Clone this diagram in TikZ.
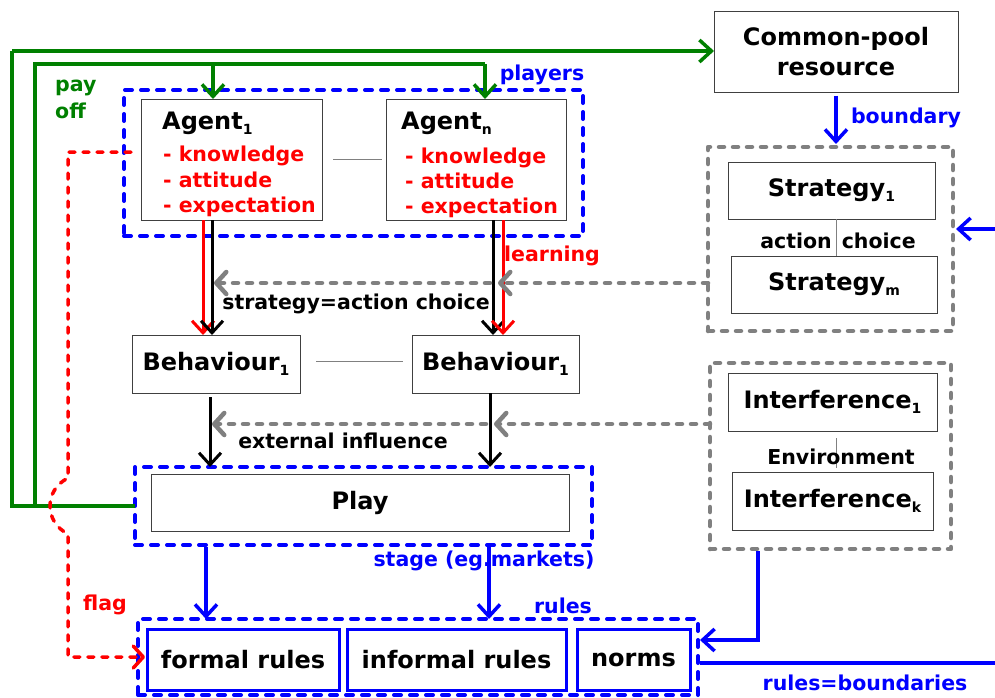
\documentclass[tikz,border=0pt]{standalone}
\usepackage{fontspec}
\setmainfont{DejaVu Sans}
\usetikzlibrary{arrows.meta,calc}
\definecolor{gr}{RGB}{0,128,0}
\definecolor{dg}{RGB}{128,128,128}
\definecolor{bl}{RGB}{0,0,255}
\definecolor{rd}{RGB}{255,0,0}
\newcommand{\sbs}[1]{\raisebox{-5pt}{\fontsize{14}{14}\selectfont #1}}
\begin{document}
\begin{tikzpicture}[x=1pt,y=-1pt,
  box/.style={draw=black!75,line width=1pt,inner sep=0pt,outer sep=0pt,font=\bfseries\fontsize{24}{30}\selectfont,align=center},
  rbox/.style={draw=bl,line width=3pt,inner sep=0pt,outer sep=0pt,font=\bfseries\fontsize{24}{30}\selectfont},
  bgrp/.style={draw=bl,line width=4pt,dash pattern=on 7pt off 9pt,line cap=round,line join=round,inner sep=0pt,outer sep=0pt},
  ggrp/.style={draw=dg,line width=4.5pt,dash pattern=on 5pt off 9pt,line cap=round,line join=round,inner sep=0pt,outer sep=0pt},
  lbl/.style={font=\bfseries\fontsize{20.5}{27}\selectfont,inner sep=0pt},
  big/.style={font=\bfseries\fontsize{24}{30}\selectfont,inner sep=0pt},
  barbtip/.style={-{Straight Barb[length=12pt,width=22pt]}},
  garr/.style={draw=gr,line width=3.5pt,barbtip},
  gline/.style={draw=gr,line width=3.5pt},
  karr/.style={draw=black,line width=3pt,barbtip},
  rarr/.style={draw=rd,line width=3pt,barbtip},
  barr/.style={draw=bl,line width=3.5pt,barbtip},
  bline/.style={draw=bl,line width=3.5pt},
  gdash/.style={draw=dg,line width=4.5pt,dash pattern=on 5pt off 9pt,line cap=round,-{Straight Barb[length=10pt,width=22pt,round]}},
  rdash/.style={draw=rd,line width=3.5pt,dash pattern=on 6pt off 8pt,line cap=round,-{Straight Barb[length=10pt,width=22pt,round]}},
  thinl/.style={draw=gray,line width=0.8pt}
]
\useasboundingbox (0,0) rectangle (995,697);

% group boxes
\node[bgrp,minimum width=459pt,minimum height=146pt] (players) at (353.5,163) {};
\node[bgrp,minimum width=457pt,minimum height=78pt] (playg) at (363.5,506) {};
\node[bgrp,minimum width=560pt,minimum height=76pt] (rulesg) at (418,657) {};
\node[ggrp,minimum width=245pt,minimum height=184pt] (stratg) at (830.5,239) {};
\node[ggrp,minimum width=241pt,minimum height=186pt] (envg) at (830.5,456) {};

% boxes
\node[box,fill=white,minimum width=181pt,minimum height=121pt] (a1) at (231.5,159.5) {};
\node[box,fill=white,minimum width=180pt,minimum height=121pt] (an) at (476,159.5) {};
\node[big,anchor=base west] (a1t) at (162,129) {Agent\sbs{1}};
\node[lbl,rd,anchor=base west] (a1k) at (163,161) {- knowledge};
\node[lbl,rd,anchor=base west] (a1a) at (163,187) {- attitude};
\node[lbl,rd,anchor=base west] (a1e) at (163,212) {- expectation};
\node[big,anchor=base west] (ant) at (401,129) {Agent\sbs{n}};
\node[lbl,rd,anchor=base west] (ank) at (405,163) {- knowledge};
\node[lbl,rd,anchor=base west] (ana) at (405,188) {- attitude};
\node[lbl,rd,anchor=base west] (ane) at (405,213) {- expectation};

\node[box,minimum width=168pt,minimum height=58pt] (b1) at (216,364) {Behaviour\sbs{1}};
\node[box,minimum width=167pt,minimum height=58pt] (b2) at (495.5,364) {Behaviour\sbs{1}};
\node[box,minimum width=418pt,minimum height=57pt] (play) at (360,502.5) {Play};
\node[rbox,minimum width=192pt,minimum height=61pt] (formal) at (243,659.5) {formal rules};
\node[rbox,minimum width=219pt,minimum height=61pt] (informal) at (456.5,659.5) {informal rules};
\node[rbox,minimum width=113pt,minimum height=61pt] (norms) at (633.5,659.5) {norms};
\node[box,minimum width=244pt,minimum height=81pt] (cpr) at (836,52) {Common-pool\\resource};
\node[box,minimum width=207pt,minimum height=57pt] (s1) at (831.5,190.5) {Strategy\sbs{1}};
\node[box,minimum width=206pt,minimum height=57pt] (sm) at (834,284.5) {Strategy\sbs{m}};
\node[box,minimum width=209pt,minimum height=58pt] (i1) at (832.5,402) {Interference\sbs{1}};
\node[box,minimum width=201pt,minimum height=58pt] (ik) at (832.5,501) {Interference\sbs{k}};

% thin links
\draw[thinl,shorten <=11pt,shorten >=4pt] (a1.east) -- (an.west);
\draw[thinl,shorten <=16pt,shorten >=9pt] ($(b1.east)+(0,-3)$) -- ($(b2.west)+(0,-3)$);
\draw[thinl] ($(s1.south)+(4.5,0)$) -- ($(sm.north)+(2,0)$);
\draw[thinl] ($(i1.south)+(3.5,7)$) -- ($(ik.north)+(3.5,-4)$);
\node[lbl,fill=none] (actc) at (838,241) {action\hspace{10pt}choice};
\node[lbl] (envt) at (841,457) {Environment};

% green payoff lines
\coordinate (gj) at (35,506);
\coordinate (g1) at (213,64);
\draw[gline] (playg.west) -- (12,506) -- (12,51);
\draw[garr] (12,51) -- (cpr.west |- 0,51);
\draw[gline] (gj) -- (35,64) -- (485,64);
\draw[garr] (485,64) -- (485,99);
\draw[garr] (g1) -- (213,99);
\node[lbl,gr,anchor=west,align=left] (payoff) at (55,99) {pay\\off};
\node[lbl,bl] (playl) at (542,75) {players};

% agent -> behaviour
\draw[rarr] ($(a1.south)+(-28.5,0)$) -- ($(b1.north)+(-13,0)$);
\draw[karr] ($(a1.south)+(-19.5,0)$) -- ($(b1.north)+(-4,0)$);
\draw[karr] ($(an.south)+(17,0)$) -- ($(b2.north)+(-2.5,0)$);
\draw[rarr] ($(an.south)+(27,0)$) -- ($(b2.north)+(7.5,0)$);
\node[lbl,rd] (learn) at (552,256) {learning};
\node[lbl] (sac) at (356,304) {strategy=action choice};

% strategy dashed arrows
\coordinate (sa) at (708,283);
\coordinate (sb) at (498,283);
\coordinate (sc) at (490,283);
\coordinate (sd) at (214,283);
\draw[gdash] (sa) -- (sb);
\draw[gdash] (sc) -- (sd);

% behaviour -> play
\draw[karr] ($(b1.south)+(-6,4)$) -- ($(b1.south |- playg.north)+(-6,0)$);
\draw[karr] ($(b2.south)+(-5.5,0)$) -- ($(b2.south |- playg.north)+(-5.5,0)$);
\node[lbl] (extl) at (343,441) {external influence};

% environment dashed arrows
\coordinate (ea) at (710,424);
\coordinate (eb) at (494,424);
\coordinate (ec) at (486,424);
\coordinate (ed) at (212,424);
\draw[gdash] (ea) -- (eb);
\draw[gdash] (ec) -- (ed);

% play -> rules
\draw[barr] ($(playg.south west)+(71,2)$) -- ($(playg.south west |- rulesg.north)+(71,0)$);
\draw[barr] ($(playg.south west)+(354,2)$) -- ($(playg.south west |- rulesg.north)+(354,0)$);
\node[lbl,bl] (stagel) at (484,561) {stage (eg.markets)};
\node[lbl,bl] (rulesl) at (563,606) {rules};

% cpr -> strategy
\draw[barr,shorten >=3pt] ($(cpr.south)+(0,3)$) -- (cpr.south |- stratg.north);
\node[lbl,bl] (boundl) at (906,118) {boundary};
\coordinate (sr) at (995,229);
\draw[barr,shorten >=3pt] (sr) -- (stratg.east |- sr);

% environment -> rules
\draw[barr] ($(envg.south)+(-72.5,2)$) |- ($(rulesg.east)+(2,-17)$);
\coordinate (rbnd) at (995,663);
\draw[bline] ($(rulesg.east)+(2,6)$) -- (rbnd);
\node[lbl,bl] (rbl) at (865,683) {rules=boundaries};

% flag
\coordinate (fl0) at (131,152);
\draw[rdash] (fl0) -- (68,152) -- (68,478) .. controls (44,490) and (44,522) .. (68,534) -- (68,657) -- ($(formal.west)+(-2,-2.5)$);
\node[lbl,rd] (flagl) at (105,605) {flag};
\end{tikzpicture}
\end{document}
